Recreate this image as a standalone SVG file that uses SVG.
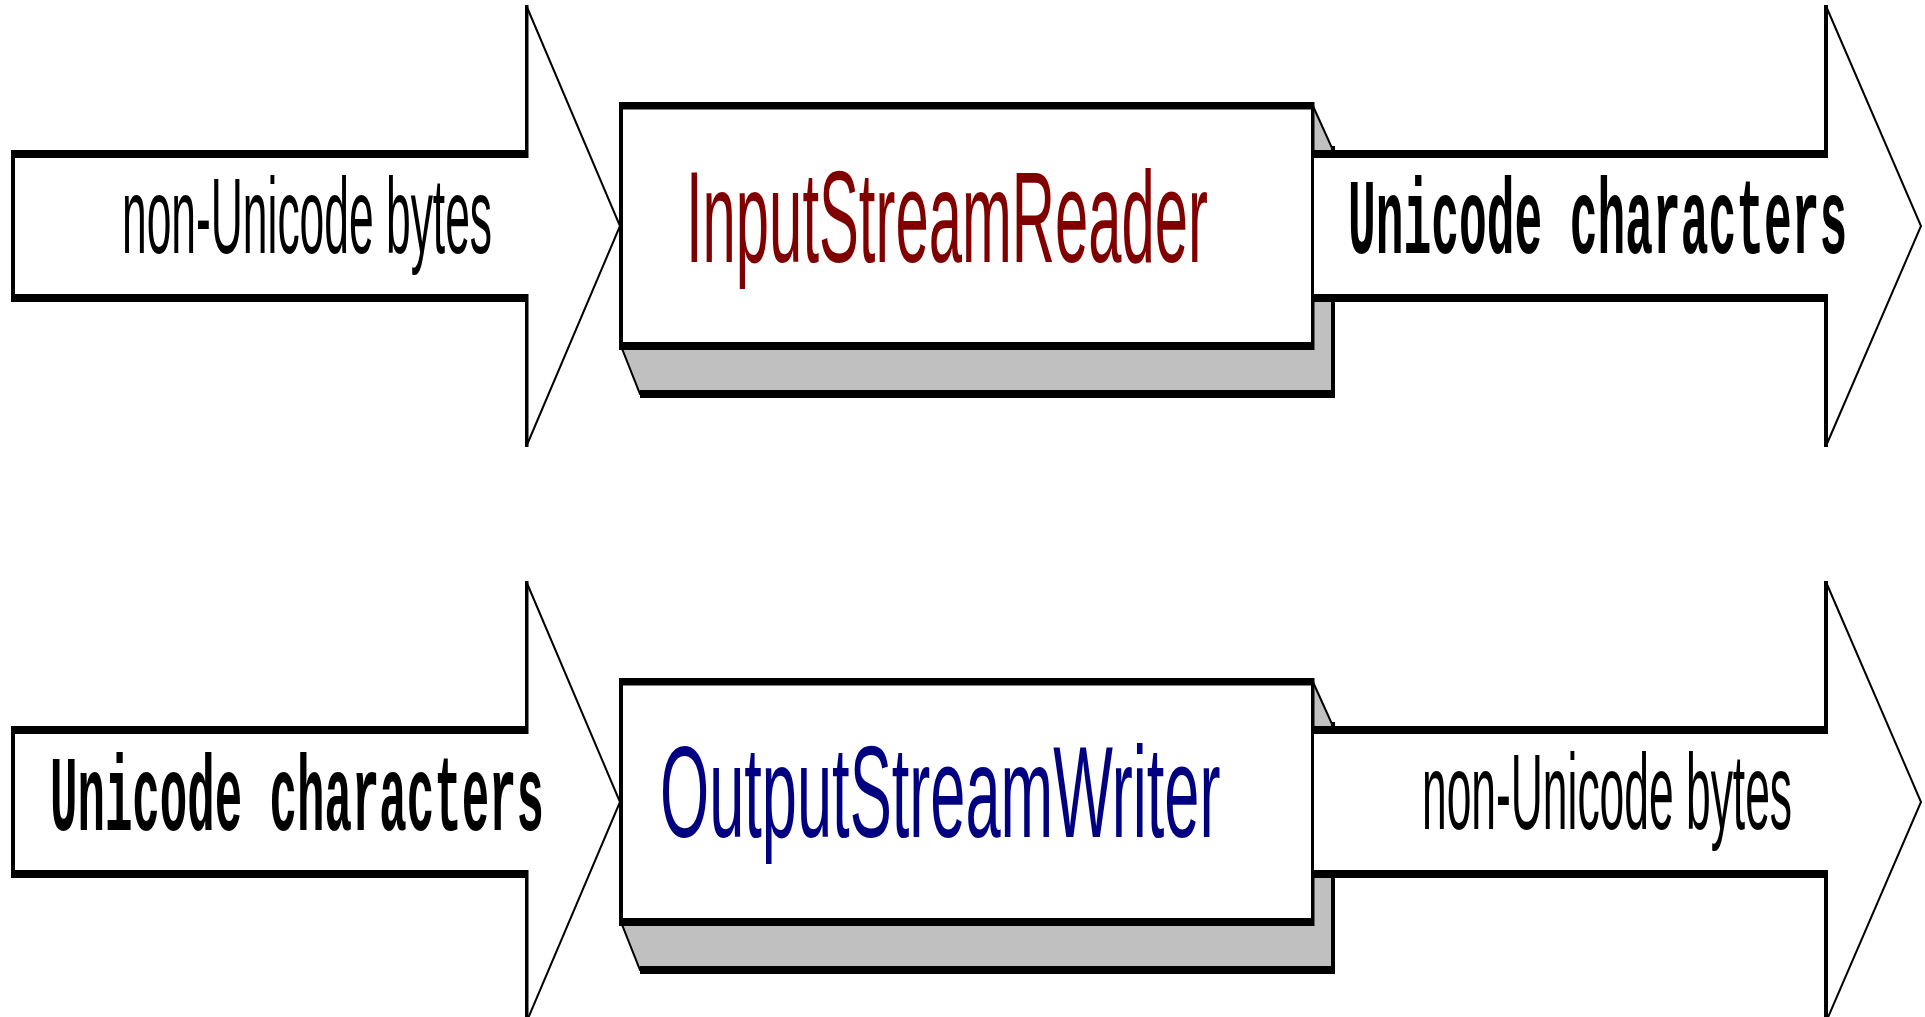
<svg xmlns="http://www.w3.org/2000/svg" xmlns:xlink="http://www.w3.org/1999/xlink" width="1925" height="1017" viewBox="0 0 1925 1017">
  <style>
    .ink { fill: #000000; }
    .outline { fill: #ffffff; stroke: #000000; stroke-width: 2; }
    .shade { fill: #c0c0c0; stroke: #000000; stroke-width: 2; }
    .face { fill: #ffffff; }
    .thin-label { font-family: "Liberation Sans", Arial, sans-serif; font-size: 108px; fill: #000000; }
    .mono-label { font-family: "Liberation Mono", "Courier New", monospace; font-weight: bold; font-size: 108px; fill: #000000; }
    .class-name { font-family: "Liberation Sans", Arial, sans-serif; font-size: 130px; }
    .reader { fill: #800000; }
    .writer { fill: #000080; }
  </style>
  <defs>
    <!-- 3D box: extruded shadow behind a white front face -->
    <g id="box3d">
      <polygon class="shade" points="1313,106 1332,148 1332,394 640,394 621,346"/>
      <rect class="ink" x="1332" y="146" width="3" height="252"/>
      <rect class="ink" x="640" y="390" width="695" height="8"/>
      <rect class="face" x="621" y="105" width="692" height="241"/>
      <rect class="ink" x="619" y="102" width="695" height="7.5"/>
      <rect class="ink" x="619" y="342" width="695" height="8"/>
      <rect class="ink" x="619" y="102" width="4" height="248"/>
      <rect class="ink" x="1311" y="102" width="3.5" height="248"/>
    </g>
    <!-- block arrow feeding into the box -->
    <g id="arrowIn">
      <polygon class="outline" points="13,154 526.5,154 526.5,6 620,226 526.5,446 526.5,298 13,298"/>
      <rect class="ink" x="11" y="150" width="517" height="8"/>
      <rect class="ink" x="11" y="294" width="517" height="8"/>
      <rect class="ink" x="11" y="150" width="4" height="152"/>
      <rect class="ink" x="525" y="5" width="3.5" height="153"/>
      <rect class="ink" x="525" y="294" width="3.5" height="153"/>
    </g>
    <!-- block arrow leaving the box -->
    <g id="arrowOut">
      <path class="outline" d="M1314,154 H1826 V6 L1921,226 L1826,446 V298 H1314"/>
      <rect class="ink" x="1311" y="150" width="517" height="8"/>
      <rect class="ink" x="1311" y="294" width="517" height="8"/>
      <rect class="ink" x="1824" y="5" width="4" height="153"/>
      <rect class="ink" x="1824" y="294" width="4" height="153"/>
    </g>
  </defs>

  <rect x="0" y="0" width="1925" height="1017" fill="#ffffff"/>

  <!-- converter classes (labels are horizontally condensed) -->
  <g id="input-stream-reader">
    <use xlink:href="#box3d"/>
    <text class="class-name reader" transform="translate(686,262) scale(0.460,1)">InputStreamReader</text>
  </g>
  <g id="output-stream-writer">
    <use xlink:href="#box3d" transform="translate(0,576)"/>
    <text class="class-name writer" transform="translate(660,837) scale(0.486,1)">OutputStreamWriter</text>
  </g>

  <!-- data flowing in and out -->
  <g id="connectors">
    <g id="reader-input">
      <use xlink:href="#arrowIn"/>
      <text class="thin-label" transform="translate(122,253) scale(0.411,1)">non-Unicode bytes</text>
    </g>
    <g id="reader-output">
      <use xlink:href="#arrowOut"/>
      <text class="mono-label" transform="translate(1348,253) scale(0.428,1)">Unicode characters</text>
    </g>
    <g id="writer-input">
      <use xlink:href="#arrowIn" transform="translate(0,576)"/>
      <text class="mono-label" transform="translate(50,830) scale(0.4235,1)">Unicode characters</text>
    </g>
    <g id="writer-output">
      <use xlink:href="#arrowOut" transform="translate(0,576)"/>
      <text class="thin-label" transform="translate(1422,829) scale(0.411,1)">non-Unicode bytes</text>
    </g>
  </g>
</svg>
